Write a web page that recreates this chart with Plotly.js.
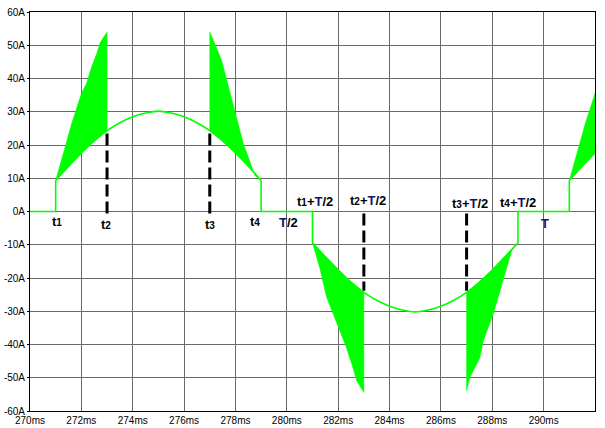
<!DOCTYPE html>
<html><head><meta charset="utf-8">
<script src="https://cdn.plot.ly/plotly-3.0.1.min.js"></script>
<style>html,body{margin:0;padding:0;background:#fff}</style>
</head><body><div id="chart" style="width:605px;height:428px"></div>
<script>
// ---- data (time in ms, current in A) ----
const posHalfTime = [271,271.5,272,272.5,273,273.5,274,274.5,275,275.5,276,276.5,277,277.5,278,278.5,279];
const posHalfCurrent = [9.3,13.6,17.6,21.2,24.3,26.7,28.5,29.6,30.2,29.6,28.5,26.7,24.3,21.2,17.6,13.6,9.3];
const negHalfTime = [281,281.5,282,282.5,283,283.5,284,284.5,285,285.5,286,286.5,287,287.5,288,288.5,289];
const negHalfCurrent = [-9.4,-13.6,-17.6,-21.2,-24.3,-26.7,-28.5,-29.6,-30.2,-29.6,-28.5,-26.7,-24.3,-21.2,-17.6,-13.6,-9.4];
const tailTime = [291,291.5,292];
const tailCurrent = [9.3,13.6,17.6];
// zero (off) intervals with their switching steps
const offTime = [270,271,271,null,279,279,281,281,null,289,289,291,291];
const offCurrent = [0,0,9.3,null,9.3,0,0,-9.4,null,-9.4,0,0,9.3];

// ripple envelopes (outer edge of the green band)
const env1Time = [271,271.3,271.62,272.0,272.2,272.4,272.6,272.73,273];
const env1Current = [9.3,17.5,26.4,35.5,38.5,43.5,47.5,50.8,54];
const env2Time = [277,277.05,277.14,277.46,277.66,277.98,278.31,278.76,279];
const env2Current = [54,53,51.5,45.5,39.5,30.4,20.4,10.8,9.3];
const env3Time = [281,281.3,281.55,282.0,282.3,282.53,282.72,283];
const env3Current = [-9.4,-17.5,-25.8,-34.8,-40.5,-45.9,-50.9,-54.4];
const env4Time = [287,287.13,287.52,287.65,288.04,288.43,288.76,289];
const env4Current = [-54,-49.9,-43.9,-38.9,-30.8,-20.8,-11.7,-9.4];
const env5Time = [291,291.3,291.62,292];
const env5Current = [9.3,17.5,26.4,35.5];

// dashed markers
const markerTime = [273,277,283,287];
const markerCurrent = [24.3,24.3,-24.3,-24.3];

// ticks
const xTickVals = [270,272,274,276,278,280,282,284,286,288,290,292];
const xTickText = ['270ms','272ms','274ms','276ms','278ms','280ms','282ms','284ms','286ms','288ms','290ms','292ms'];
const yTickVals = [60,50,40,30,20,10,0,-10,-20,-30,-40,-50,-60];
const yTickText = ['60A','50A','40A','30A','20A','10A','0A','-10A','-20A','-30A','-40A','-50A','-60A'];

// labels
const labelText = ['t1','t2','t3','t4','T/2','t1+T/2','t2+T/2','t3+T/2','t4+T/2','T'];

// ---- build ----
const GREEN = '#00ff00';
function fmt(s){
  let h = s.replace(/t(\d)/g, "t<span style='font-size:10px'>$1</span>");
  h = h.replace(/T/g, "<span style='color:#14146e'>T</span>");
  return '<b>' + h + '</b>';
}
function band(envT, envI, baseT, baseI){
  const t0 = envT[0], t1 = envT[envT.length-1];
  const xs = envT.slice(), ys = envI.slice();
  for (let i = baseT.length-1; i >= 0; i--){
    if (baseT[i] >= t0 - 1e-9 && baseT[i] <= t1 + 1e-9){ xs.push(baseT[i]); ys.push(baseI[i]); }
  }
  xs.push(envT[0]); ys.push(envI[0]);
  return {x: xs, y: ys, type:'scatter', mode:'lines', fill:'toself', fillcolor:GREEN,
          line:{color:GREEN, width:0.5}, hoverinfo:'skip', showlegend:false};
}
const traces = [];
markerTime.forEach((t,i)=>{
  traces.push({x:[t,t], y:[-0.6, markerCurrent[i]*0.98], type:'scatter', mode:'lines',
    line:{color:'#000', width:3, dash:'12px,5px'}, showlegend:false, hoverinfo:'skip'});
});
traces.push(band(env1Time, env1Current, posHalfTime, posHalfCurrent));
traces.push(band(env2Time, env2Current, posHalfTime, posHalfCurrent));
traces.push(band(env3Time, env3Current, negHalfTime, negHalfCurrent));
traces.push(band(env4Time, env4Current, negHalfTime, negHalfCurrent));
traces.push(band(env5Time, env5Current, tailTime, tailCurrent));
const lineStyle = {color:GREEN, width:1.6};
traces.push({x:offTime, y:offCurrent, type:'scatter', mode:'lines', line:lineStyle, showlegend:false, connectgaps:false});
traces.push({x:posHalfTime, y:posHalfCurrent, type:'scatter', mode:'lines', line:Object.assign({shape:'spline'},lineStyle), showlegend:false});
traces.push({x:negHalfTime, y:negHalfCurrent, type:'scatter', mode:'lines', line:Object.assign({shape:'spline'},lineStyle), showlegend:false});
traces.push({x:tailTime, y:tailCurrent, type:'scatter', mode:'lines', line:Object.assign({shape:'spline'},lineStyle), showlegend:false});

// label placement (layout)
const labelPos = [[271.05,-3.0],[272.96,-3.9],[277.0,-3.9],[278.76,-3.0],[280.08,-3.3],
                  [281.1,3.1],[283.16,3.3],[287.13,2.5],[289.0,2.7],[290.05,-3.6]];
const annotations = labelText.map((s,i)=>({x:labelPos[i][0], y:labelPos[i][1], xref:'x', yref:'y',
  text:fmt(s), showarrow:false, xanchor:'center', yanchor:'middle',
  font:{family:'Liberation Sans, Arial, sans-serif', size:13, color:'#000'}}));

const layout = {
  width:605, height:428,
  margin:{l:30, r:10, t:12, b:17, pad:0},
  paper_bgcolor:'#fff', plot_bgcolor:'#fff',
  showlegend:false,
  xaxis:{range:[270,292], tickvals:xTickVals, ticktext:xTickText, showgrid:true, gridcolor:'#6a6a6a', gridwidth:1,
    zeroline:false, showline:true, linecolor:'#000', linewidth:1, mirror:true, ticks:'', 
    tickfont:{family:'Liberation Sans Narrow, Arial Narrow, Liberation Sans, Arial', size:10, color:'#000'}, fixedrange:true},
  yaxis:{range:[-60,60], tickvals:yTickVals, ticktext:yTickText, showgrid:true, gridcolor:'#6a6a6a', gridwidth:1,
    zeroline:false, showline:true, linecolor:'#000', linewidth:1, mirror:true, ticks:'outside', ticklen:2, tickcolor:'#000',
    tickfont:{family:'Liberation Sans, Arial, sans-serif', size:10, color:'#000'}, fixedrange:true},
  annotations: annotations
};
Plotly.newPlot('chart', traces, layout, {staticPlot:true, displayModeBar:false});
</script></body></html>
